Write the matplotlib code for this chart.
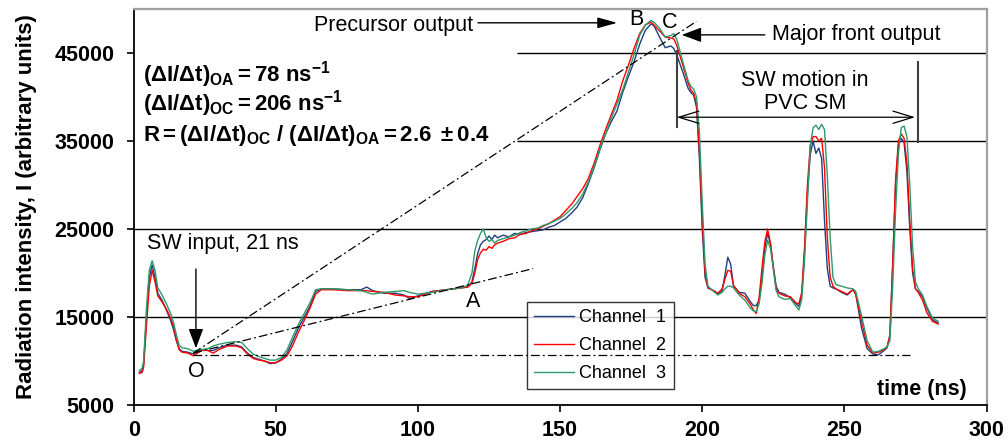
import matplotlib.pyplot as plt

plt.rcParams['font.family'] = ['Liberation Sans', 'DejaVu Sans']
plt.rcParams['mathtext.fontset'] = 'custom'
plt.rcParams['mathtext.rm'] = 'Liberation Sans'
plt.rcParams['mathtext.bf'] = 'Liberation Sans:bold'
plt.rcParams['mathtext.it'] = 'Liberation Sans:italic'

# time axis (ns) and the three detector channels (arbitrary units)
time_ns = [2, 3, 3.5, 4.5, 5.5, 6.5, 7.5, 8.5, 10, 11.5,
           13, 14, 15, 16, 17, 19, 21, 22, 24, 26,
           28, 30, 33, 36, 38, 40, 42, 44, 46, 48,
           50, 52, 54, 56, 58, 60, 62, 64, 66, 70,
           75, 80, 82, 84, 88, 92, 95, 97, 100, 105,
           110, 115, 117.5, 119, 120, 121, 122, 123, 124, 125,
           126, 127, 128, 130, 132, 134, 136, 138, 140, 142,
           144, 146, 148, 150, 152, 154, 156, 158, 160, 162,
           164, 166, 168, 170, 172, 174, 176, 178, 180, 182,
           183, 185, 187, 189, 190, 191, 193, 195, 196, 197,
           198, 199, 200, 201, 202, 204, 205.5, 207, 208, 209,
           210, 211, 213, 215, 217, 218, 219, 220, 221, 222,
           223, 224, 225, 226, 227, 229, 231, 233, 234, 235,
           236, 237, 238, 239, 240, 241, 242, 243, 244, 245,
           246, 247, 249, 251, 253, 254, 256, 258, 260, 262,
           264, 265, 266, 267, 268, 269, 270, 271, 272, 273,
           274, 275, 276, 277.5, 279, 281, 283]

ch1 = [8700, 8900, 9600, 15000, 19500, 20900, 19500, 17700, 16900, 15800,
       14600, 13600, 12300, 11400, 11100, 11000, 10800, 11000, 11300, 11200,
       11200, 11500, 11800, 11800, 11600, 10900, 10400, 10200, 10000, 9700,
       9800, 10200, 10900, 12300, 13800, 15000, 16200, 17900, 18200, 18200,
       18100, 18100, 18400, 18000, 17700, 17700, 17500, 17100, 17400, 17900,
       18100, 18300, 18400, 19000, 20500, 22200, 23200, 23600, 23800, 24200,
       23800, 24300, 24000, 24300, 24100, 24500, 24400, 24600, 24700, 24800,
       24900, 25200, 25400, 25800, 26200, 26800, 27500, 28600, 30200, 32000,
       34000, 35800, 37200, 38400, 40500, 42300, 44000, 46000, 47600, 48300,
       48100, 46800, 45600, 45800, 45500, 44800, 43000, 41000, 40500, 40200,
       38800, 33000, 25000, 19500, 18300, 18000, 17600, 18000, 19800, 21800,
       21000, 18500, 17800, 17700, 16700, 16300, 16300, 16900, 19500, 22800,
       24500, 23300, 20800, 18500, 17800, 17600, 17200, 16500, 16200, 17500,
       22500, 29000, 33500, 35000, 33600, 34200, 33000, 26000, 20500, 18500,
       18300, 18200, 17800, 17500, 18100, 17600, 13800, 11400, 10800, 10700,
       11200, 11500, 13000, 21000, 30000, 34500, 35300, 34800, 31500, 25000,
       20000, 18200, 17900, 17300, 16000, 14700, 14300]

ch2 = [8600, 8700, 9300, 14000, 18500, 20300, 19000, 17400, 16700, 15900,
       14900, 14000, 12500, 11300, 11000, 10900, 10600, 10800, 11200, 11200,
       10900, 11300, 11700, 11700, 11500, 10800, 10300, 10100, 10000, 9800,
       9800, 10100, 10600, 11800, 13300, 14600, 16000, 17600, 18100, 18100,
       18000, 18000, 18000, 17900, 17800, 17500, 17400, 17300, 17300, 17900,
       18100, 18300, 18400, 18800, 20000, 21500, 22300, 22700, 22600, 23000,
       22800, 23200, 23400, 23600, 23900, 24000, 24400, 24500, 24800, 25000,
       25300, 25600, 26000, 26400, 27100, 27800, 28700, 29600, 30800, 32500,
       34500, 36300, 38000, 39600, 41800, 43600, 45500, 47200, 48200, 48500,
       48200, 47500, 46800, 46700, 46600, 45900, 43800, 41600, 40800, 40400,
       39200, 34000, 26000, 20000, 18300, 18000, 17700, 18200, 19300, 20300,
       20200, 18600, 17700, 17300, 16400, 15800, 15400, 17200, 20500, 23500,
       25000, 23400, 20500, 18200, 17700, 17400, 17300, 16600, 16500, 17800,
       23000, 30000, 34500, 35500, 35500, 35000, 35300, 32000, 24000, 19500,
       18500, 18200, 17900, 17600, 18100, 17600, 14600, 11800, 10900, 11000,
       11300, 11600, 12800, 21000, 30500, 35000, 35800, 35300, 32500, 26000,
       20500, 18200, 17800, 16900, 15500, 14500, 14200]

ch3 = [8900, 9200, 10000, 16000, 20300, 21400, 20300, 18300, 17500, 16500,
       15400, 14400, 13000, 11800, 11500, 11400, 11100, 11200, 11300, 11400,
       11700, 11900, 12100, 12200, 12100, 11400, 10800, 10500, 10300, 10100,
       10100, 10400, 11300, 12800, 14200, 15400, 16600, 18100, 18200, 18200,
       18100, 18000, 17800, 17600, 17800, 17900, 18000, 17800, 17600, 17800,
       18100, 18300, 18600, 20000, 22500, 23700, 24500, 25000, 24000, 23600,
       23800, 23400, 23700, 23900, 24100, 24300, 24600, 24800, 25000, 25100,
       25400, 25600, 25900, 26200, 26700, 27300, 28000, 29000, 30400, 32100,
       34100, 35800, 37600, 39200, 40800, 42800, 44800, 47000, 48200, 48700,
       48500, 47800, 46800, 47000, 47200, 46600, 44200, 41900, 41200, 40900,
       40000, 36000, 28000, 21000, 18500, 17900, 17500, 17800, 18200, 18500,
       18500, 18300, 17500, 16900, 16000, 15700, 15600, 16500, 18800, 22000,
       23700, 22800, 20500, 18000, 17300, 17000, 17100, 16200, 15800, 17000,
       21500, 28000, 34500, 36500, 36800, 36300, 36900, 36300, 31000, 24000,
       19500, 18700, 18500, 18300, 18200, 17900, 15200, 12300, 11000, 11100,
       11400, 11600, 12300, 18500, 27000, 33500, 36500, 36700, 35500, 30000,
       23000, 19000, 18200, 17500, 16200, 14900, 14500]

channel_names = ['Channel  1', 'Channel  2', 'Channel  3']
channel_colors = ['#1f3f80', '#ff0000', '#2e9a6a']

x_ticks = [0, 50, 100, 150, 200, 250, 300]
y_ticks = [5000, 15000, 25000, 35000, 45000]

fig = plt.figure(figsize=(10.08, 4.43), dpi=100)
ax = fig.add_axes([0.1326, 0.0858, 0.8461, 0.8939])

# horizontal grid lines (upper two are hidden behind the text block)
ax.hlines([15000, 25000], 0, 300, colors='black', lw=1.0, zorder=1)
ax.hlines([35000, 45000], 135, 300, colors='black', lw=1.0, zorder=1)

for y, name, col in zip([ch1, ch2, ch3], channel_names, channel_colors):
    ax.plot(time_ns, y, color=col, lw=1.0, label=name, zorder=3)

# dash-dot construction lines
dd = (0, (7, 2.5, 1.5, 2.5))
ax.plot([21, 273], [10700, 10700], color='black', lw=0.9, ls=dd, zorder=6)
ax.plot([21, 140.5], [10900, 20500], color='black', lw=0.9, ls=dd, zorder=6)
ax.plot([21, 198], [10900, 48600], color='black', lw=0.9, ls=dd, zorder=6)

ax.set_xlim(0, 300)
ax.set_ylim(5000, 50000)
ax.set_xticks(x_ticks)
ax.set_yticks(y_ticks)
ax.set_xticklabels([str(v) for v in x_ticks], fontsize=15.5, fontweight='bold')
ax.set_yticklabels([str(v) for v in y_ticks], fontsize=15.5, fontweight='bold')
ax.tick_params(axis='x', direction='out', length=5, width=1.2, pad=6)
ax.tick_params(axis='y', direction='out', length=5, width=1.2, pad=9)

for s in ['left', 'bottom']:
    ax.spines[s].set_color('black')
    ax.spines[s].set_linewidth(1.3)
for s in ['top', 'right']:
    ax.spines[s].set_color('#a0a0a0')
    ax.spines[s].set_linewidth(1.6)

ax.set_ylabel('Radiation intensity, I (arbitrary units)', fontsize=16, fontweight='bold')
ax.yaxis.set_label_coords(-0.113, 0.5)
ax.text(0.977, 0.038, 'time (ns)', transform=ax.transAxes, ha='right', va='center',
        fontsize=15.5, fontweight='bold')

leg = ax.legend(loc='upper left', bbox_to_anchor=(0.4611, 0.2601), borderaxespad=0,
                fontsize=13, frameon=True, fancybox=False, handlelength=2.2,
                handletextpad=0.3, labelspacing=0.6, borderpad=0.4)
leg.get_frame().set_edgecolor('black')
leg.get_frame().set_linewidth(1.0)
leg.set_zorder(5)

# text block with rates
tb = 16
ax.text(3.3, 42600, r'$\mathbf{(\Delta I/\Delta t)_{OA} = 78\ ns^{-1}}$',
        fontsize=tb, va='center', ha='left')
ax.text(3.3, 39200, r'$\mathbf{(\Delta I/\Delta t)_{OC} = 206\ ns^{-1}}$',
        fontsize=tb, va='center', ha='left')
ax.text(3.3, 35600,
        r'$\mathbf{R = (\Delta I/\Delta t)_{OC}\ /\ (\Delta I/\Delta t)_{OA} = 2.6\ \pm 0.4}$',
        fontsize=tb, va='center', ha='left')

# annotations
fs = 15.5
ax.text(119.5, 48170, 'Precursor output', fontsize=fs, ha='right', va='center')
ax.annotate('', xy=(170.1, 48430), xytext=(121.1, 48430),
            arrowprops=dict(arrowstyle='-|>,head_length=0.8,head_width=0.22',
                            mutation_scale=15, color='black', lw=1.0,
                            shrinkA=0, shrinkB=0))
ax.text(224.5, 47150, 'Major front output', fontsize=fs, ha='left', va='center')
ax.annotate('', xy=(192.8, 47060), xytext=(222, 47060),
            arrowprops=dict(arrowstyle='-|>,head_length=0.8,head_width=0.3',
                            mutation_scale=15, color='black', lw=1.0,
                            shrinkA=0, shrinkB=0))
ax.text(176.9, 48750, 'B', fontsize=fs, ha='center', va='center')
ax.text(188.6, 48500, 'C', fontsize=fs, ha='center', va='center')
ax.text(21.9, 8790, 'O', fontsize=fs, ha='center', va='center')
ax.text(119.5, 16740, 'A', fontsize=fs, ha='center', va='center')

ax.text(4.6, 23370, 'SW input, 21 ns', fontsize=fs, ha='left', va='center')
ax.annotate('', xy=(21.9, 11440), xytext=(21.9, 20450),
            arrowprops=dict(arrowstyle='-|>,head_length=0.8,head_width=0.3',
                            mutation_scale=15, color='black', lw=1.0,
                            shrinkA=0, shrinkB=0))

ax.text(236.1, 40560, 'SW motion in\nPVC SM', fontsize=fs, ha='center', va='center',
        linespacing=1.1)
ax.annotate('', xy=(191, 37700), xytext=(274.9, 37700),
            arrowprops=dict(arrowstyle='<->,head_length=0.72,head_width=0.22',
                            mutation_scale=20, color='black', lw=0.9,
                            shrinkA=0, shrinkB=0))
ax.plot([191, 191], [36600, 45200], color='#404040', lw=1.5, zorder=4)
ax.plot([276, 276], [34900, 44000], color='#404040', lw=1.5, zorder=4)

plt.savefig('out.png', dpi=100)
